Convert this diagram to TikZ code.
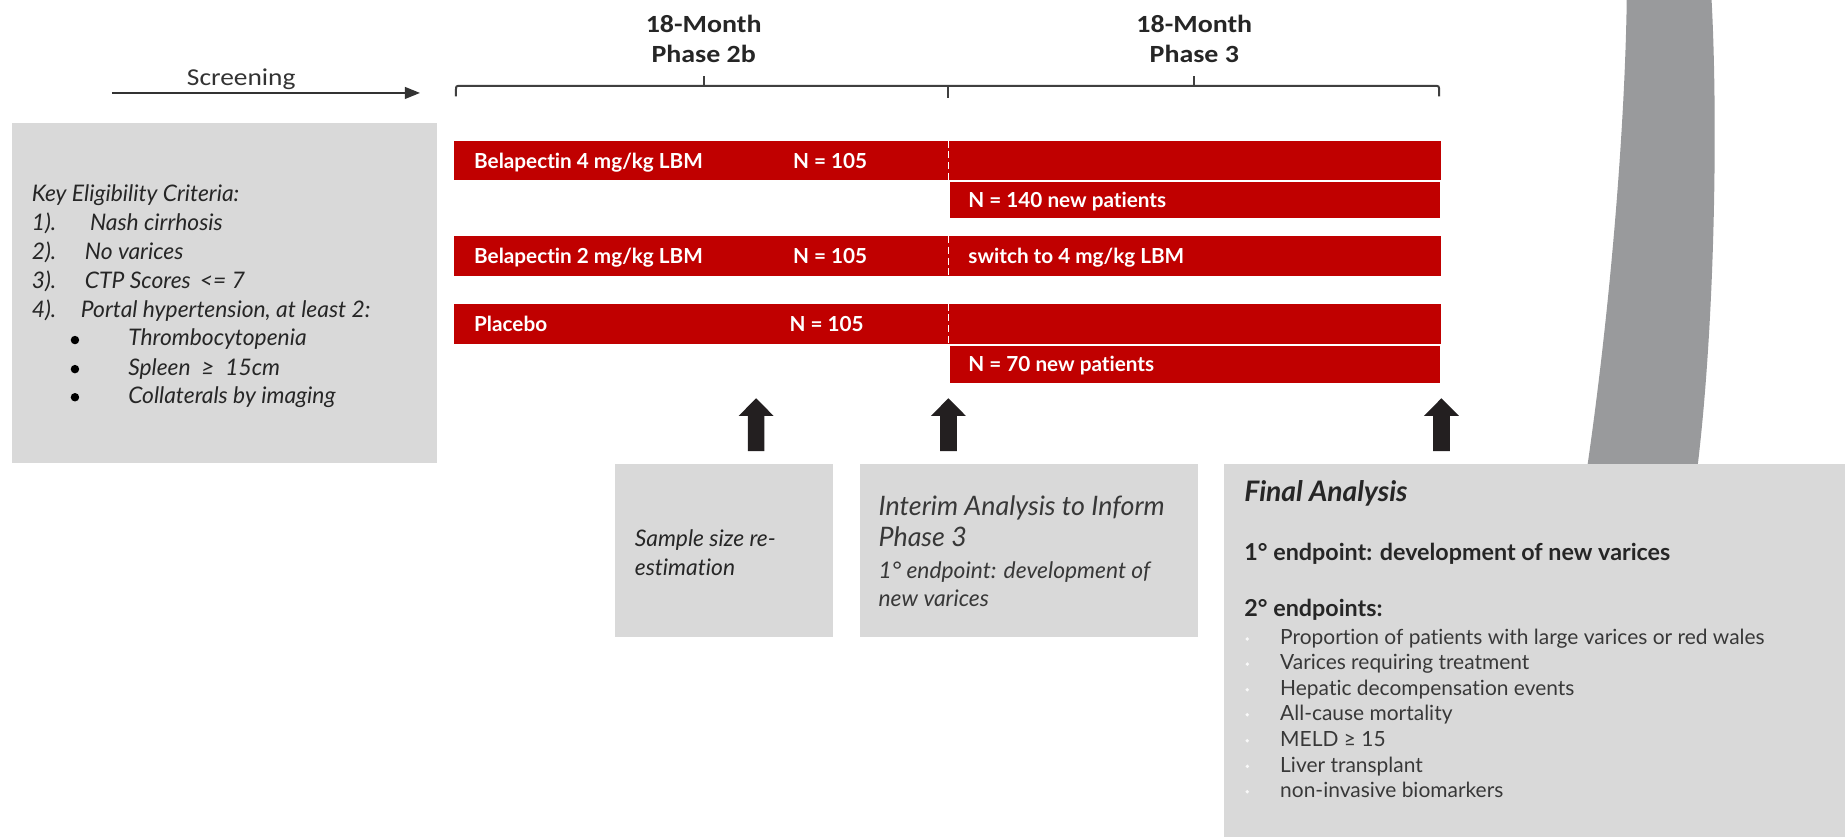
\documentclass[tikz,border=0pt]{standalone}
\usepackage{fontspec}
\setmainfont{Lato}[Ligatures=NoCommon]
\newfontfamily\hdfont[FakeStretch=1.13]{Carlito}
\usetikzlibrary{arrows.meta}
\definecolor{barred}{HTML}{C00000}
\definecolor{boxgray}{HTML}{D9D9D9}
\definecolor{bandgray}{HTML}{999A9C}
\definecolor{arrowc}{HTML}{231F20}
\definecolor{txtc}{HTML}{262626}
\definecolor{itemc}{HTML}{383838}
\definecolor{brkc}{HTML}{3F3F3F}
\newcommand{\fsz}[1]{\fontsize{#1}{#1}\selectfont}
\begin{document}
\begin{tikzpicture}[x=0.5pt,y=-0.5pt,
  every node/.style={inner sep=0pt,outer sep=0pt},
  hd/.style={anchor=base,font=\hdfont\bfseries\fsz{10.5},text=black!85},
  scr/.style={anchor=base,font=\hdfont\fsz{10.3},text=black!80},
  brk/.style={draw=brkc,line width=0.85pt},
  bartext/.style={anchor=base west,text=white,font=\bfseries\fsz{8.8}},
  keytxt/.style={anchor=base west,text=txtc,font=\itshape\fsz{9.7}},
  blackdot/.style={circle,fill=black,minimum size=3.6pt},
  smalltxt/.style={anchor=base west,text=txtc,font=\itshape\fsz{9.7}},
  bigit/.style={anchor=base west,text=itemc,font=\itshape\fsz{11.4}},
  finhead/.style={anchor=base west,text=txtc,font=\bfseries\itshape\fsz{12}},
  finbold/.style={anchor=base west,text=txtc,font=\bfseries\fsz{9.9}},
  item/.style={anchor=base west,text=itemc,font=\fsz{8.9}},
  whitedot/.style={circle,fill=white!85!boxgray,minimum size=1.6pt},
  dashline/.style={draw=white,line width=0.6pt,dash pattern=on 3pt off 1.6pt},
  uparrow/.pic={\fill[arrowc] (-7.1,0)--(-7.1,-29.8)--(-14.9,-29.8)--(0,-44.8)--(14.9,-29.8)--(7.1,-29.8)--(7.1,0)--cycle;}
]
\useasboundingbox (0,0) rectangle (1568,711);
\fill[white] (0,0) rectangle (1568,711);

% grey curved band
\fill[bandgray] (1382.5,0) .. controls (1381,110) and (1368,270) .. (1347,410)
  -- (1441,410) .. controls (1458,280) and (1460,100) .. (1454.6,0) -- cycle;

% screening arrow
\coordinate (scrA) at (95,79);
\coordinate (scrB) at (357,79);
\draw[draw=black!80,line width=0.9pt,-{Triangle[length=6.5pt,width=5pt]}] (scrA) -- (scrB);
\node[scr] (scr) at (205,73) {Screening};

% headers
\node[hd] (h2a) at (598,27.5) {18-Month};
\node[hd] (h2b) at (598,53.3) {Phase 2b};
\node[hd] (h3a) at (1015,27.5) {18-Month};
\node[hd] (h3b) at (1015,53.3) {Phase 3};

% bracket
\draw[brk] (387.5,82) -- (387.5,77) .. controls (387.5,73) .. (391.5,73) -- (1219,73)
  .. controls (1223,73) .. (1223,77) -- (1223,82);
\draw[brk] (598,73) -- (598,65);
\draw[brk] (806,73) -- (806,83);
\draw[brk] (1015,73) -- (1015,65);

% red bars
\fill[barred] (386,119.5) rectangle (1225,153);
\filldraw[fill=barred,draw=white,line width=0.4pt] (807,154.5) rectangle (1224,186);
\fill[barred] (386,200.5) rectangle (1225,234.6);
\fill[barred] (386,258) rectangle (1225,292);
\filldraw[fill=barred,draw=white,line width=0.4pt] (807,294) rectangle (1224,325.5);
\draw[dashline] (806,119.5) -- (806,153);
\draw[dashline] (806,200.5) -- (806,234.6);
\draw[dashline] (806,258) -- (806,292);

\node[bartext] (t1) at (403,143) {Belapectin 4 mg/kg LBM};
\node[bartext] (n1) at (674,143) {N = 105};
\node[bartext] (t1b) at (823,176) {N = 140 new patients};
\node[bartext] (t2) at (403,224) {Belapectin 2 mg/kg LBM};
\node[bartext] (n2) at (674,224) {N = 105};
\node[bartext] (t2b) at (823,224) {switch to 4 mg/kg LBM};
\node[bartext] (t3) at (403,281.5) {Placebo};
\node[bartext] (n3) at (671,281.5) {N = 105};
\node[bartext] (t3b) at (823,316) {N = 70 new patients};

% eligibility box
\fill[boxgray] (10,104.5) rectangle (371,393.7);
\node[keytxt] (k0) at (27,171) {Key Eligibility Criteria:};
\node[keytxt] (k1n) at (27,195.5) {1).};
\node[keytxt] (k1) at (76.5,195.5) {Nash cirrhosis};
\node[keytxt] (k2n) at (27,220.4) {2).};
\node[keytxt] (k2) at (72.2,220.4) {No varices};
\node[keytxt] (k3n) at (27,245) {3).};
\node[keytxt] (k3) at (72.2,245) {CTP Scores\ \,<= 7};
\node[keytxt] (k4n) at (27,269.6) {4).};
\node[keytxt] (k4) at (68.8,269.6) {Portal hypertension, at least 2:};
\node[blackdot] (b1) at (63.7,289) {};
\node[keytxt] (k5) at (109,294) {Thrombocytopenia};
\node[blackdot] (b2) at (63.7,313.7) {};
\node[keytxt] (k6) at (109,318.7) {Spleen\ \ ≥\ \ 15cm};
\node[blackdot] (b3) at (63.7,337.6) {};
\node[keytxt] (k7) at (109,342.6) {Collaterals by imaging};

% up arrows
\pic (a1) at (642.6,383.3) {uparrow};
\pic (a2) at (806,383.3) {uparrow};
\pic (a3) at (1225,383.3) {uparrow};

% sample size box
\fill[boxgray] (523,394.3) rectangle (708,541);
\node[smalltxt] (s1) at (539.5,464.6) {Sample size re-};
\node[smalltxt] (s2) at (539.5,488.7) {estimation};

% interim box
\fill[boxgray] (731,394.3) rectangle (1018,541);
\node[bigit] (i1) at (746.7,438.5) {Interim Analysis to Inform};
\node[bigit] (i2) at (746.7,464.5) {Phase 3};
\node[smalltxt,text=itemc] (i3) at (746.7,491.5) {1° endpoint: development of};
\node[smalltxt,text=itemc] (i4) at (746.7,515.5) {new varices};

% final box
\fill[boxgray] (1040,394.3) rectangle (1568,711);
\node[finhead] (f0) at (1057.6,426.3) {Final Analysis};
\node[finbold] (f1) at (1057.6,476) {1° endpoint: development of new varices};
\node[finbold] (f2) at (1057.6,524) {2° endpoints:};
\foreach \yy/\tt [count=\i] in {548/{Proportion of patients with large varices or red wales},
  569.4/{Varices requiring treatment},
  591.2/{Hepatic decompensation events},
  612.5/{All-cause mortality},
  634.5/{MELD ≥ 15},
  656.3/{Liver transplant},
  677.9/{non-invasive biomarkers}}{
  \node[whitedot] (wd\i) at (1060,\yy-5) {};
  \node[item] (it\i) at (1088,\yy) {\tt};
}
\end{tikzpicture}
\end{document}
